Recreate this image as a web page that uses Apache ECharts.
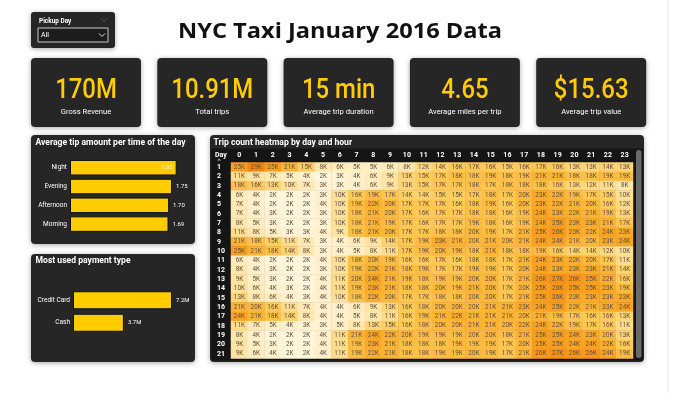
<!DOCTYPE html>
<html><head><meta charset="utf-8">
<script src="https://cdn.jsdelivr.net/npm/echarts@6.0.0/dist/echarts.min.js"></script>
<style>html,body{margin:0;padding:0;background:#fff}#c{width:680px;height:393px}</style>
</head><body><div id="c"></div>
<script>
// ---------- data ----------
const pageTitle = 'NYC Taxi January 2016 Data';
const filterLabel = 'Pickup Day';
const filterValue = 'All';
const kpiValues = ['170M', '10.91M', '15 min', '4.65', '$15.63'];
const kpiLabels = ['Gross Revenue', 'Total trips', 'Average trip duration', 'Average miles per trip', 'Average trip value'];
const tipTitle = 'Average tip amount per time of the day';
const tipCategories = ['Night', 'Evening', 'Afternoon', 'Morning'];
const tipValues = [1.83, 1.75, 1.70, 1.69];
const payTitle = 'Most used payment type';
const payCategories = ['Credit Card', 'Cash'];
const payValues = [7.2, 3.7]; // millions
const heatTitle = 'Trip count heatmap by day and hour';
const hours = ['0','1','2','3','4','5','6','7','8','9','10','11','12','13','14','15','16','17','18','19','20','21','22','23'];
const days = ['1','2','3','4','5','6','7','8','9','10','11','12','13','14','15','16','17','18','19','20','21'];
const tripCounts = [ // thousands, rows = day, columns = hour
  [25,29,25,21,15,8,6,5,5,6,8,12,14,16,17,16,15,16,17,16,13,13,14,13],
  [11,9,7,5,4,2,3,4,6,9,13,15,17,18,18,19,18,19,21,21,18,18,19,19],
  [18,16,13,10,7,3,3,4,6,9,13,15,17,17,18,17,18,18,18,16,13,12,11,8],
  [6,4,2,2,2,3,10,16,19,17,14,14,15,15,17,18,17,20,23,22,19,17,15,10],
  [7,4,2,2,2,4,10,19,22,20,17,17,17,16,18,19,16,20,23,22,21,20,16,12],
  [7,4,3,2,2,3,10,18,21,20,17,16,17,17,18,18,16,19,24,23,22,21,19,13],
  [8,5,3,2,2,3,10,18,21,19,17,16,17,17,19,18,16,19,24,25,23,23,21,17],
  [11,8,5,3,3,4,9,18,21,20,17,17,18,18,20,19,17,21,25,26,23,22,24,23],
  [21,18,15,11,7,3,4,6,9,14,17,19,23,21,20,21,20,21,24,24,21,20,23,24],
  [25,21,18,14,8,3,4,5,8,11,17,19,20,19,18,21,18,18,19,16,14,14,12,10],
  [6,4,2,2,2,4,10,18,20,19,16,16,17,16,18,18,17,21,24,23,22,20,17,11],
  [8,4,3,2,2,3,10,19,22,21,18,19,17,17,19,19,17,20,24,23,23,23,21,14],
  [9,5,3,2,2,4,11,20,24,21,19,18,19,19,20,20,17,21,26,27,26,25,22,16],
  [10,6,4,3,2,4,11,19,23,21,18,18,20,19,21,20,17,20,25,26,25,25,23,19],
  [13,8,6,4,3,4,10,18,22,20,17,17,18,18,20,20,17,21,25,26,23,23,23,23],
  [21,20,16,11,7,4,4,6,9,13,16,18,20,20,20,21,21,23,24,25,22,21,23,24],
  [24,21,18,14,8,4,4,5,8,11,16,19,21,22,21,21,21,20,21,19,17,16,16,13],
  [11,7,5,4,3,3,5,8,13,15,16,18,20,20,21,21,20,22,24,22,19,17,16,11],
  [8,4,2,2,2,4,11,21,24,22,20,19,19,19,20,20,18,21,25,25,24,23,20,13],
  [9,5,3,2,2,4,11,19,23,21,18,18,18,19,19,19,17,20,25,25,24,24,22,16],
  [9,6,4,2,2,4,11,19,22,21,18,18,19,19,20,19,17,21,26,27,26,26,24,19]
];

// ---------- styles ----------
const FONT = 'Roboto, "Noto Sans", sans-serif';
const CARD = '#262626';
const YELLOW = '#FFCC00';
const shadow = {shadowBlur: 5, shadowColor: 'rgba(0,0,0,0.35)', shadowOffsetY: 1};

const mctx = document.createElement('canvas').getContext('2d');
function fitScale(text, font, target) { mctx.font = font; return target / mctx.measureText(text).width; }

const titleScale = fitScale(pageTitle, 'bold 22px "Open Sans"', 324);
const kpiScale = fitScale('10.91M', '500 28px Roboto', 82);
const panelScale = fitScale(tipTitle, 'bold 9px Roboto', 150);

const heatData = [];
tripCounts.forEach((row, d) => row.forEach((v, h) => heatData.push([h, d, v])));

function txt(x, y, text, s, scaleX) {
  return {type: 'text', x: x, y: y, scaleX: scaleX || 1, style: Object.assign({x: 0, y: 0, text: text, verticalAlign: 'middle'}, s)};
}

const graphics = [];
graphics.push({type: 'rect', shape: {x: 667, y: 0, width: 2, height: 393}, style: {fill: '#f2f2f2'}, silent: true});
// filter card
graphics.push({type: 'rect', shape: {x: 31, y: 12, width: 84, height: 36, r: 3}, style: Object.assign({fill: CARD}, shadow)});
graphics.push(txt(39, 21, filterLabel, {fill: '#fff', fontSize: 7, fontWeight: 'bold', fontFamily: FONT}, 0.92));
graphics.push({type: 'polyline', shape: {points: [[101, 18.5], [104, 21.5], [107, 18.5]]}, style: {stroke: '#555', lineWidth: 1, fill: null}});
graphics.push({type: 'rect', shape: {x: 38, y: 28, width: 70, height: 14}, style: {fill: '#1c1c1c', stroke: '#c8c8c8', lineWidth: 1}});
graphics.push(txt(41, 35.5, filterValue, {fill: '#fff', fontSize: 7, fontFamily: FONT}));
graphics.push({type: 'polyline', shape: {points: [[99, 33.5], [102, 36.5], [105, 33.5]]}, style: {stroke: '#e0e0e0', lineWidth: 1, fill: null}});
// page title
graphics.push(txt(340, 32, pageTitle, {fill: '#111', fontSize: 22, fontWeight: 'bold', fontFamily: '"Open Sans", sans-serif', align: 'center'}, titleScale));
// KPI cards
kpiValues.forEach((v, i) => {
  const x = 31 + i * 126.3;
  graphics.push({type: 'rect', shape: {x: x, y: 58, width: 110, height: 69, r: 4}, style: Object.assign({fill: CARD}, shadow)});
  graphics.push(txt(x + 55, 90.5, v, {fill: YELLOW, fontSize: 28, fontWeight: 500, fontFamily: FONT, align: 'center'}, kpiScale));
  graphics.push(txt(x + 55, 112, kpiLabels[i], {fill: '#fff', fontSize: 8, fontFamily: FONT, align: 'center'}, 0.95));
});
// left panels
graphics.push({type: 'rect', shape: {x: 31, y: 135, width: 164, height: 109, r: 4}, style: Object.assign({fill: CARD}, shadow)});
graphics.push(txt(35.5, 142.5, tipTitle, {fill: '#fff', fontSize: 9, fontWeight: 'bold', fontFamily: FONT}, panelScale));
graphics.push({type: 'rect', shape: {x: 31, y: 254, width: 164, height: 108, r: 4}, style: Object.assign({fill: CARD}, shadow)});
graphics.push(txt(35.5, 260.5, payTitle, {fill: '#fff', fontSize: 9, fontWeight: 'bold', fontFamily: FONT}, panelScale));
// heatmap panel
graphics.push({type: 'rect', shape: {x: 210, y: 135, width: 434, height: 227, r: 4}, style: Object.assign({fill: CARD}, shadow)});
graphics.push({type: 'rect', shape: {x: 211, y: 148.5, width: 432, height: 212}, style: {fill: '#151515'}});
graphics.push(txt(213.5, 142.5, heatTitle, {fill: '#fff', fontSize: 9, fontWeight: 'bold', fontFamily: FONT}, panelScale));
graphics.push(txt(215, 155, 'Day', {fill: '#fff', fontSize: 7, fontWeight: 'bold', fontFamily: FONT}));
graphics.push({type: 'polygon', shape: {points: [[217, 160.5], [219, 158.5], [221, 160.5]]}, style: {fill: '#aaa'}});
graphics.push({type: 'rect', shape: {x: 636, y: 150, width: 5.5, height: 208, r: 2.5}, style: {fill: '#6a6a6a'}, z: 10});

const catLabel = {color: '#fff', fontSize: 6.5, fontFamily: FONT, margin: 3};
const valLabel = {show: true, position: 'right', distance: 4, color: '#fff', fontSize: 6, fontFamily: FONT};

const option = {
  animation: false,
  backgroundColor: '#fff',
  graphic: {elements: graphics},
  grid: [
    {left: 70, top: 158.3, width: 116.6, height: 75.2},
    {left: 73, top: 289, width: 137.5, height: 45},
    {left: 231, top: 162.5, width: 402, height: 196}
  ],
  xAxis: [
    {type: 'value', gridIndex: 0, min: 0, max: 2, show: false},
    {type: 'value', gridIndex: 1, min: 0, max: 10, show: false},
    {type: 'category', gridIndex: 2, data: hours, position: 'top',
      axisLine: {show: false}, axisTick: {show: false}, splitArea: {show: false},
      axisLabel: {color: '#fff', fontSize: 7, fontWeight: 'bold', fontFamily: FONT, margin: 4, interval: 0}}
  ],
  yAxis: [
    {type: 'category', gridIndex: 0, data: tipCategories, inverse: true,
      axisLine: {show: false}, axisTick: {show: false}, axisLabel: catLabel},
    {type: 'category', gridIndex: 1, data: payCategories, inverse: true,
      axisLine: {show: false}, axisTick: {show: false}, axisLabel: catLabel},
    {type: 'category', gridIndex: 2, data: days, inverse: true,
      axisLine: {show: false}, axisTick: {show: false}, splitArea: {show: false},
      axisLabel: {color: '#fff', fontSize: 7, fontWeight: 'bold', fontFamily: FONT, margin: 14, align: 'left', interval: 0}}
  ],
  visualMap: {show: false, seriesIndex: 2, min: 2, max: 29,
    inRange: {color: ['#FFF5DA', '#FEE4A6', '#FDCB5C', '#FBAE2C', '#F5840C']}},
  series: [
    {type: 'bar', xAxisIndex: 0, yAxisIndex: 0, barWidth: 15.5,
      itemStyle: {color: YELLOW, borderColor: '#111', borderWidth: 1},
      label: Object.assign({formatter: p => p.value.toFixed(2)}, valLabel),
      data: tipValues.map((v, i) => i === 0 ? {value: v, label: {position: 'insideRight', color: '#fff6cc'}} : v)},
    {type: 'bar', xAxisIndex: 1, yAxisIndex: 1, barWidth: 18,
      itemStyle: {color: YELLOW, borderColor: '#111', borderWidth: 1},
      label: Object.assign({formatter: p => p.value + 'M'}, valLabel),
      data: payValues},
    {type: 'heatmap', xAxisIndex: 2, yAxisIndex: 2, data: heatData,
      itemStyle: {borderWidth: 0},
      emphasis: {disabled: true},
      label: {show: true, color: '#5e5140', fontSize: 6.3, fontFamily: FONT, formatter: p => p.value[2] + 'K'}}
  ]
};
const chart = echarts.init(document.getElementById('c'), null, {renderer: 'canvas'});
chart.setOption(option);
</script>
</body></html>
